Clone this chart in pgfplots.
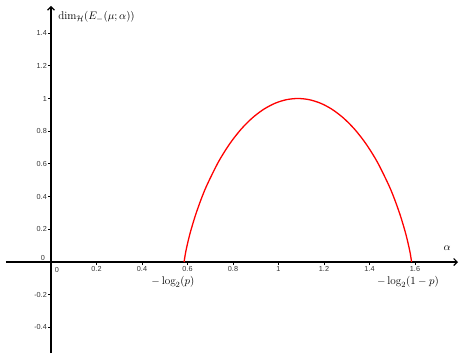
\documentclass[border=0pt]{standalone}
\usepackage{fontspec}
\setsansfont{Liberation Sans}
\usepackage{pgfplots}
\pgfplotsset{compat=1.18}
\usetikzlibrary{arrows.meta}
\definecolor{ticklab}{HTML}{333333}
\newcommand{\tl}{\fontsize{7.3}{8}\selectfont\sffamily}
\newcommand{\ml}{\fontsize{11.2}{13}\selectfont}
\begin{document}
\begin{tikzpicture}[x=1bp,y=1bp]
\begin{axis}[
  scale only axis,
  width=452bp, height=347.1bp,
  xmin=-0.198, xmax=1.789,
  ymin=-0.557, ymax=1.566,
  axis lines=middle,
  axis line style={line width=1.2bp, black, -{Straight Barb[length=3.5bp,width=7bp,line width=1.1bp]}},
  clip=false,
  xtick={0.2,0.4,0.6,0.8,1,1.2,1.4,1.6},
  xticklabels={0.2,0.4,0.6,0.8,1,1.2,1.4,1.6},
  ytick={-0.4,-0.2,0.2,0.4,0.6,0.8,1,1.2,1.4},
  yticklabels={-0.4,-0.2,0.2,0.4,0.6,0.8,1,1.2,1.4},
  tick align=outside,
  major tick length=3bp,
  tick style={line width=0.9bp, black},
  tick label style={font=\tl, text=ticklab},
  xticklabel style={anchor=north, inner sep=1bp},
  yticklabel style={anchor=east, inner sep=1bp},
]
\addplot[red, line width=1.3bp, smooth] coordinates {
(0.585,0) (0.590,0.0454) (0.595,0.0808) (0.605,0.1414) (0.615,0.1944)
(0.635,0.2864) (0.660,0.3843) (0.685,0.469) (0.735,0.6098) (0.785,0.7219)
(0.835,0.8113) (0.885,0.8813) (0.935,0.9341) (0.985,0.9710) (1.035,0.9928)
(1.085,1) (1.135,0.9928) (1.185,0.9710) (1.235,0.9341) (1.285,0.8813)
(1.335,0.8113) (1.385,0.7219) (1.435,0.6098) (1.485,0.469) (1.510,0.3843)
(1.535,0.2864) (1.555,0.1944) (1.565,0.1414) (1.575,0.0808) (1.580,0.0454)
(1.585,0)
};
\node[font=\tl, text=ticklab, inner sep=0pt] at (axis cs:0,0) [xshift=6bp, yshift=-8bp] {0};
\node[font=\tl, text=ticklab, inner sep=0pt] at (axis cs:0,0) [xshift=-8bp, yshift=4.3bp] {0};
\node[anchor=west, inner sep=0pt, font=\ml] at (axis cs:0.031,1.498) {$\dim_{\mathcal{H}}(E_{-}(\mu;\alpha))$};
\node[inner sep=0pt, font=\ml] at (axis cs:1.741,0.086) {$\alpha$};
\node[inner sep=0pt, font=\ml] at (axis cs:0.536,-0.122) {$-\log_2(p)$};
\node[inner sep=0pt, font=\ml] at (axis cs:1.569,-0.122) {$-\log_2(1-p)$};
\coordinate (BL) at (axis cs:-0.2242,-0.5566);
\coordinate (TR) at (axis cs:1.7934,1.6024);
\end{axis}
\pgfresetboundingbox
\useasboundingbox (BL) rectangle (TR);
\end{tikzpicture}
\end{document}
